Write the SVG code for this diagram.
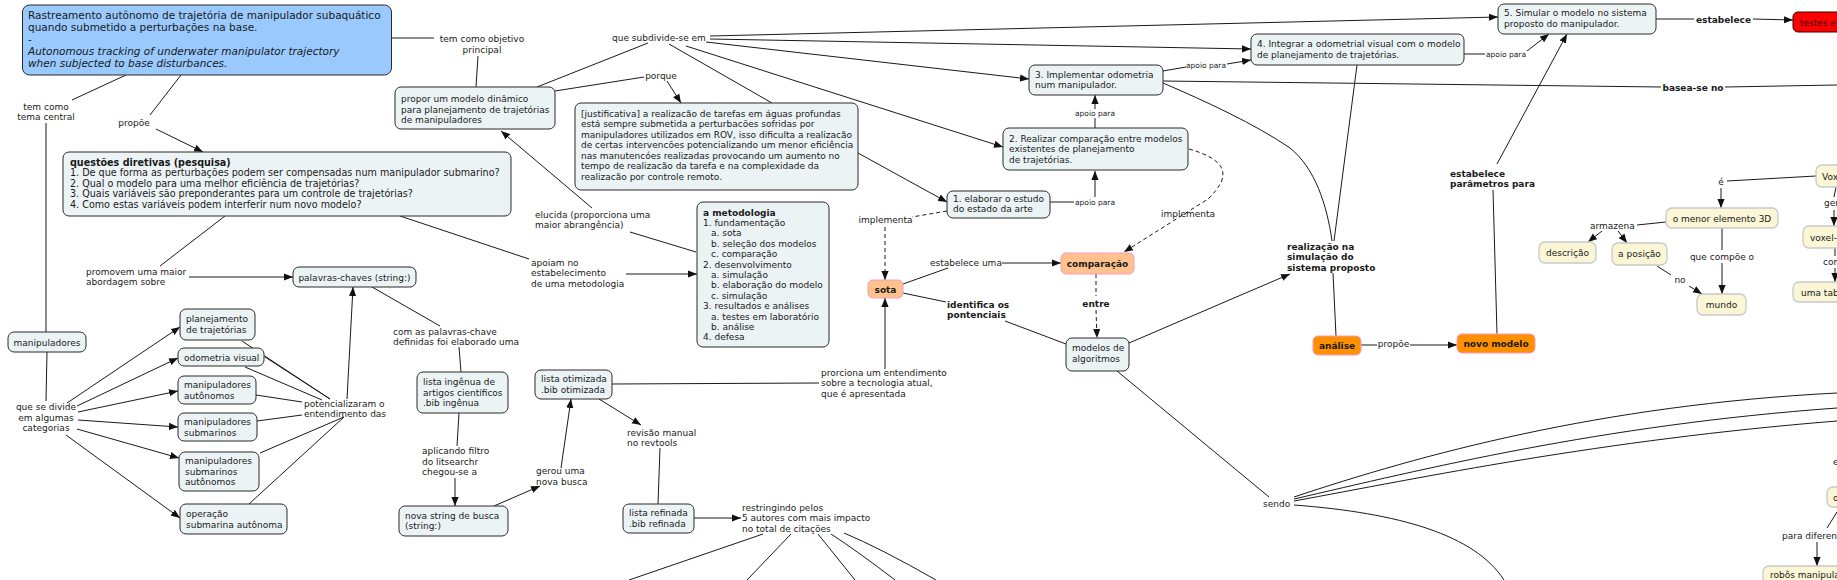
<svg xmlns="http://www.w3.org/2000/svg" width="1837" height="580" viewBox="0 0 1837 580">
<defs>
<marker id="ah" viewBox="0 0 10 8" refX="10" refY="4" markerWidth="9" markerHeight="8" markerUnits="userSpaceOnUse" orient="auto"><path d="M0,0L10,4L0,8z" fill="#111"/></marker>
<style>
.n{fill:#ecf3f5;stroke:#2b2b2b;stroke-width:1}
.ti{fill:#99c9fd;stroke:#2b2b2b;stroke-width:1}
.pe{fill:#ffc18e;stroke:#f49ac0;stroke-width:1}
.or{fill:#ff9000;stroke:#f49ac0;stroke-width:1}
.rd{fill:#ff0000;stroke:#3a0000;stroke-width:1}
.cr{fill:#faf6d6;stroke:#c9c9c9;stroke-width:1.3}
.t{font-family:"DejaVu Sans",Verdana,sans-serif;font-size:9px;fill:#1a1a1a}
.b{font-weight:bold}
.sm{font-size:7.5px}
.m{text-anchor:middle}
.big{font-size:10.5px}
.q{font-size:9.6px}
.i{font-style:italic}
.c{fill:none;stroke:#1a1a1a;stroke-width:1}
.d{stroke-dasharray:4 3}
.a{marker-end:url(#ah)}
</style>
</defs>
<rect width="1837" height="580" fill="#ffffff"/>

<g id="connectors">
<path class="c" d="M391,38H434"/>
<text class="t m" x="482" y="42">tem como objetivo</text>
<text class="t m" x="482" y="52.5">principal</text>
<path class="c" d="M478,56L476,87"/>
<path class="c" d="M126,75L72,100"/>
<text class="t m" x="46" y="109.5">tem como</text>
<text class="t m" x="46" y="120">tema central</text>
<path class="c" d="M46,123V332"/>
<path class="c" d="M181,75L150,115"/>
<text class="t m" x="134" y="125.5">propõe</text>
<path class="c a" d="M156,129L203,152"/>
<path class="c" d="M225,216L160,266"/>
<text class="t" x="86" y="274.5">promovem uma maior</text>
<text class="t" x="86" y="284.5">abordagem sobre</text>
<path class="c a" d="M189,277L293,277"/>
<path class="c" d="M400,216L529,259"/>
<text class="t" x="531" y="265.5">apoiam no</text>
<text class="t" x="531" y="276">estabelecimento</text>
<text class="t" x="531" y="286.5">de uma metodologia</text>
<path class="c a" d="M626,274L697,274"/>
<path class="c" d="M696,252L630,232"/>
<text class="t" x="535" y="217.5">elucida (proporciona uma</text>
<text class="t" x="535" y="228">maior abrangência)</text>
<path class="c a" d="M592,208L501,131"/>
<text class="t" x="612" y="40.5">que subdivide-se em</text>
<path class="c" d="M648,43L537,87"/>
<path class="c" d="M669,44L772,103"/>
<path class="c a" d="M706,42L1029,79"/>
<path class="c a" d="M686,46L1003,147"/>
<path class="c a" d="M710,36L1498,17"/>
<path class="c a" d="M710,39L1251,49"/>
<path class="c" d="M555,91L644,77"/>
<text class="t m" x="661" y="78.5">porque</text>
<path class="c a" d="M667,81L681,103"/>
<path class="c a" d="M858,153L947,202"/>
<path class="c" d="M1050,202H1074"/>
<text class="t sm m" x="1095" y="204.5">apoio para</text>
<path class="c a" d="M1095,197V171"/>
<path class="c" d="M1095,128V118"/>
<text class="t sm m" x="1095" y="115.5">apoio para</text>
<path class="c a" d="M1095,109V95"/>
<path class="c" d="M1163,71L1186,67"/>
<text class="t sm m" x="1206" y="67.5">apoio para</text>
<path class="c a" d="M1227,64L1251,60"/>
<path class="c" d="M1464,54H1485"/>
<text class="t sm m" x="1506" y="56.5">apoio para</text>
<path class="c a" d="M1527,51L1549,34"/>
<path class="c" d="M1656,19H1694"/>
<text class="t b m" x="1723.5" y="22.5">estabelece</text>
<path class="c a" d="M1753,19L1793,20"/>
<path class="c" d="M1163,81L1661,87"/>
<text class="t b m" x="1693" y="91">basea-se no</text>
<path class="c" d="M1725,87L1837,85"/>
<path class="c" d="M1163,83C1205,101 1255,124 1290,148C1315,168 1327,205 1332,241"/>
<path class="c" d="M1357,65L1334,241"/>
<text class="t b" x="1287" y="249.5">realização na</text>
<text class="t b" x="1287" y="260">simulação do</text>
<text class="t b" x="1287" y="270.5">sistema proposto</text>
<path class="c" d="M1333,273L1336,336"/>
<path class="c" d="M1361,345H1377"/>
<text class="t m" x="1393.5" y="346.5">propõe</text>
<path class="c a" d="M1410,345H1457"/>
<path class="c" d="M1497,334L1493,190"/>
<text class="t b" x="1450" y="176.5">estabelece</text>
<text class="t b" x="1450" y="187">parâmetros para</text>
<path class="c a" d="M1497,164L1567,34"/>
<path class="c d" d="M947,211L912,217"/>
<text class="t m" x="885.5" y="222.5">implementa</text>
<path class="c d a" d="M885,227V280"/>
<path class="c d a" d="M1189,149C1228,160 1232,176 1208,199L1124,252"/>
<text class="t m" x="1188" y="217">implementa</text>
<path class="c" d="M903,284L948,268"/>
<text class="t" x="930" y="266">estabelece uma</text>
<path class="c a" d="M1002,263H1061"/>
<path class="c" d="M903,293L946,302"/>
<text class="t b" x="947" y="307.5">identifica os</text>
<text class="t b" x="947" y="318">pontenciais</text>
<path class="c" d="M1005,321L1066,344"/>
<path class="c d" d="M1096,274V296"/>
<text class="t b m" x="1096" y="306.5">entre</text>
<path class="c d a" d="M1096,310L1097,338"/>
<path class="c a" d="M1129,343L1290,274"/>
<path class="c" d="M1117,371L1269,497"/>
<text class="t" x="1263" y="506.5">sendo</text>
<path class="c" d="M1294,497C1420,455 1600,405 1837,393"/>
<path class="c" d="M1294,499C1420,470 1600,425 1837,408"/>
<path class="c" d="M1294,501C1420,478 1600,440 1837,421"/>
<path class="c" d="M1294,505C1400,513 1475,535 1504,580"/>
<path class="c" d="M612,384L819,383"/>
<text class="t" x="821" y="375.5">prorciona um entendimento</text>
<text class="t" x="821" y="386">sobre a tecnologia atual,</text>
<text class="t" x="821" y="396.5">que é apresentada</text>
<path class="c a" d="M885,369V298"/>
<path class="c a" d="M599,399L641,425"/>
<text class="t" x="627" y="435.5">revisão manual</text>
<text class="t" x="627" y="446">no revtools</text>
<path class="c" d="M660,448L658,504"/>
<path class="c a" d="M694,518H741"/>
<text class="t" x="742" y="510.5">restringindo pelos</text>
<text class="t" x="742" y="521">5 autores com mais impacto</text>
<text class="t" x="742" y="531.5">no total de citações</text>
<path class="c" d="M763,534L629,580"/>
<path class="c" d="M791,534L747,580"/>
<path class="c" d="M818,534L855,580"/>
<path class="c" d="M831,534Q860,553 895,580"/>
<path class="c" d="M844,533Q880,548 936,580"/>
<path class="c" d="M47,352L46,401"/>
<text class="t m" x="46" y="410.3">que se divide</text>
<text class="t m" x="46" y="420.8">em algumas</text>
<text class="t m" x="46" y="431.3">categorias</text>
<path class="c a" d="M67,403L180,327"/>
<path class="c a" d="M77,406L178,358"/>
<path class="c a" d="M78,412L178,391"/>
<path class="c a" d="M78,420L178,427"/>
<path class="c a" d="M77,429L179,458"/>
<path class="c a" d="M66,435L180,518"/>
<path class="c" d="M242,341L330,399"/>
<path class="c" d="M265,357L330,399"/>
<path class="c" d="M245,367L322,400"/>
<path class="c" d="M256,395L302,402"/>
<path class="c" d="M257,421L302,415"/>
<path class="c" d="M260,453L344,417"/>
<path class="c" d="M249,504L344,417"/>
<text class="t" x="304" y="406.5">potencializaram o</text>
<text class="t" x="304" y="417">entendimento das</text>
<path class="c a" d="M347,399L353,287"/>
<path class="c" d="M372,287L440,326"/>
<text class="t" x="393" y="334.5">com as palavras-chave</text>
<text class="t" x="393" y="345">definidas foi elaborado uma</text>
<path class="c" d="M459,347L461,372"/>
<path class="c" d="M459,413L457,446"/>
<text class="t" x="422" y="454.3">aplicando filtro</text>
<text class="t" x="422" y="464.8">do litsearchr</text>
<text class="t" x="422" y="475.3">chegou-se a</text>
<path class="c a" d="M455,478L455,506"/>
<path class="c a" d="M494,506L540,486"/>
<text class="t" x="536" y="474.3">gerou uma</text>
<text class="t" x="536" y="484.8">nova busca</text>
<path class="c a" d="M561,468L571,399"/>
<path class="c" d="M1816,176L1727,181"/>
<text class="t m" x="1721" y="184.5">é</text>
<path class="c a" d="M1721,188V208"/>
<path class="c" d="M1666,222L1637,225"/>
<text class="t" x="1590" y="228.5">armazena</text>
<path class="c a" d="M1602,231L1588,242"/>
<path class="c a" d="M1618,231L1627,243"/>
<path class="c" d="M1657,266L1671,275"/>
<text class="t m" x="1680" y="283.3">no</text>
<path class="c a" d="M1689,286L1702,294"/>
<path class="c" d="M1722,228V250"/>
<text class="t m" x="1722" y="259.5">que compõe o</text>
<path class="c a" d="M1722,263V294"/>
<path class="c" d="M1836,187L1834,197"/>
<text class="t" x="1824" y="206">gera</text>
<path class="c a" d="M1834,210V226"/>
<path class="c" d="M1835,248V256"/>
<text class="t" x="1823" y="265">com</text>
<path class="c a" d="M1835,268V282"/>
<text class="t" x="1833" y="465">e</text>
<path class="c" d="M1837,512L1827,528"/>
<text class="t" x="1782" y="539">para diferentes</text>
<path class="c a" d="M1817,542V566"/>
</g>

<g id="n-title"><rect class="ti" x="22.5" y="5" width="369" height="70" rx="7"/>
<text class="t big" x="28" y="19">Rastreamento autônomo de trajetória de manipulador subaquático</text>
<text class="t big" x="28" y="31">quando submetido a perturbações na base.</text>
<text class="t big" x="28" y="43">-</text>
<text class="t big i" x="28" y="55">Autonomous tracking of underwater manipulator trajectory</text>
<text class="t big i" x="28" y="67">when subjected to base disturbances.</text></g>

<g id="n-questoes"><rect class="n" x="63" y="152" width="448" height="64" rx="6"/>
<text class="t q b" x="70" y="165.5">questões diretivas (pesquisa)</text>
<text class="t q" x="70" y="176">1. De que forma as perturbações podem ser compensadas num manipulador submarino?</text>
<text class="t q" x="70" y="186.5">2. Qual o modelo para uma melhor eficiência de trajetórias?</text>
<text class="t q" x="70" y="197">3. Quais variáveis são preponderantes para um controle de trajetórias?</text>
<text class="t q" x="70" y="207.5">4. Como estas variáveis podem interferir num novo modelo?</text></g>

<g id="n-propor"><rect class="n" x="395" y="87" width="160" height="42" rx="6"/>
<text class="t" x="401" y="102">propor um modelo dinâmico</text>
<text class="t" x="401" y="112.5">para planejamento de trajetórias</text>
<text class="t" x="401" y="123">de manipuladores</text></g>

<g id="n-justificativa"><rect class="n" x="575" y="103" width="283" height="87" rx="6"/>
<text class="t" x="581" y="116.5">[justificativa] a realizacão de tarefas em águas profundas</text>
<text class="t" x="581" y="127">está sempre submetida a perturbacões sofridas por</text>
<text class="t" x="581" y="137.5">manipuladores utilizados em ROV, isso dificulta a realizacão</text>
<text class="t" x="581" y="148">de certas intervencões potencializando um menor eficiência</text>
<text class="t" x="581" y="158.5">nas manutencóes realizadas provocando um aumento no</text>
<text class="t" x="581" y="169">tempo de realizacão da tarefa e na complexidade da</text>
<text class="t" x="581" y="179.5">realizacão por controle remoto.</text></g>

<g id="n-metodologia"><rect class="n" x="697" y="202" width="132" height="145" rx="6"/>
<text class="t b" x="703" y="215.5">a metodologia</text>
<text class="t" x="703" y="225.9">1. fundamentação</text>
<text class="t" x="711" y="236.3">a. sota</text>
<text class="t" x="711" y="246.7">b. seleção dos modelos</text>
<text class="t" x="711" y="257.1">c. comparação</text>
<text class="t" x="703" y="267.5">2. desenvolvimento</text>
<text class="t" x="711" y="277.9">a. simulação</text>
<text class="t" x="711" y="288.3">b. elaboração do modelo</text>
<text class="t" x="711" y="298.7">c. simulação</text>
<text class="t" x="703" y="309.1">3. resultados e análises</text>
<text class="t" x="711" y="319.5">a. testes em laboratório</text>
<text class="t" x="711" y="329.9">b. análise</text>
<text class="t" x="703" y="340.3">4. defesa</text></g>

<g id="n-obj1"><rect class="n" x="947" y="191" width="103" height="27" rx="6"/>
<text class="t" x="953" y="201.5">1. elaborar o estudo</text>
<text class="t" x="953" y="212">do estado da arte</text></g>

<g id="n-obj2"><rect class="n" x="1003" y="128" width="185" height="42" rx="6"/>
<text class="t" x="1009" y="141.5">2. Realizar comparação entre modelos</text>
<text class="t" x="1009" y="152">existentes de planejamento</text>
<text class="t" x="1009" y="162.5">de trajetórias.</text></g>

<g id="n-obj3"><rect class="n" x="1029" y="65" width="134" height="30" rx="6"/>
<text class="t" x="1035" y="77.5">3. Implementar odometria</text>
<text class="t" x="1035" y="88">num manipulador.</text></g>

<g id="n-obj4"><rect class="n" x="1251" y="34" width="213" height="31" rx="6"/>
<text class="t" x="1257" y="47">4. Integrar a odometrial visual com o modelo</text>
<text class="t" x="1257" y="57.5">de planejamento de trajetórias.</text></g>

<g id="n-obj5"><rect class="n" x="1498" y="4" width="158" height="30" rx="6"/>
<text class="t" x="1504" y="16">5. Simular o modelo no sistema</text>
<text class="t" x="1504" y="26.5">proposto do manipulador.</text></g>

<g id="n-testes"><rect class="rd" x="1793" y="12" width="90" height="20" rx="5"/>
<text class="t" x="1800" y="25.5" style="fill:#3a0000">testes em</text></g>

<g id="n-sota"><rect class="pe" x="868" y="280" width="35" height="18" rx="5"/>
<text class="t b m" x="885.5" y="292.5">sota</text></g>

<g id="n-comparacao"><rect class="pe" x="1061" y="253" width="73" height="21" rx="5"/>
<text class="t b m" x="1097.5" y="266.5">comparação</text></g>

<g id="n-modelos"><rect class="n" x="1066" y="338" width="63" height="33" rx="6"/>
<text class="t" x="1072" y="351">modelos de</text>
<text class="t" x="1072" y="361.5">algoritmos</text></g>

<g id="n-analise"><rect class="or" x="1313" y="336" width="48" height="19" rx="5"/>
<text class="t b m" x="1337" y="349">análise</text></g>

<g id="n-novomodelo"><rect class="or" x="1457" y="334" width="78" height="19" rx="5"/>
<text class="t b m" x="1496" y="347">novo modelo</text></g>

<g id="n-palavras"><rect class="n" x="293" y="267" width="123" height="20" rx="6"/>
<text class="t m" x="354.5" y="280.5">palavras-chaves (string:)</text></g>

<g id="n-manipuladores"><rect class="n" x="8" y="332" width="78" height="20" rx="6"/>
<text class="t m" x="47" y="345.5">manipuladores</text></g>

<g id="n-planejamento"><rect class="n" x="180" y="309" width="75" height="31" rx="6"/>
<text class="t" x="186" y="322">planejamento</text>
<text class="t" x="186" y="332.5">de trajetórias</text></g>

<g id="n-odometria"><rect class="n" x="178" y="348" width="86" height="18" rx="6"/>
<text class="t" x="184" y="360.5">odometria visual</text></g>

<g id="n-manaut"><rect class="n" x="178" y="376" width="78" height="28" rx="6"/>
<text class="t" x="184" y="388">manipuladores</text>
<text class="t" x="184" y="398.5">autônomos</text></g>

<g id="n-mansub"><rect class="n" x="178" y="413" width="79" height="28" rx="6"/>
<text class="t" x="184" y="425">manipuladores</text>
<text class="t" x="184" y="435.5">submarinos</text></g>

<g id="n-mansubaut"><rect class="n" x="179" y="452" width="80" height="39" rx="6"/>
<text class="t" x="185" y="464">manipuladores</text>
<text class="t" x="185" y="474.5">submarinos</text>
<text class="t" x="185" y="485">autônomos</text></g>

<g id="n-operacao"><rect class="n" x="180" y="504" width="107" height="30" rx="6"/>
<text class="t" x="186" y="517">operação</text>
<text class="t" x="186" y="527.5">submarina autônoma</text></g>

<g id="n-listaingenua"><rect class="n" x="417" y="372" width="91" height="41" rx="6"/>
<text class="t" x="423" y="385">lista ingênua de</text>
<text class="t" x="423" y="395.5">artigos científicos</text>
<text class="t" x="423" y="406">.bib ingênua</text></g>

<g id="n-novastring"><rect class="n" x="399" y="506" width="109" height="30" rx="6"/>
<text class="t" x="405" y="518.5">nova string de busca</text>
<text class="t" x="405" y="529">(string:)</text></g>

<g id="n-listaotimizada"><rect class="n" x="535" y="370" width="77" height="29" rx="6"/>
<text class="t" x="541" y="382">lista otimizada</text>
<text class="t" x="541" y="392.5">.bib otimizada</text></g>

<g id="n-listarefinada"><rect class="n" x="623" y="504" width="71" height="29" rx="6"/>
<text class="t" x="629" y="516">lista refinada</text>
<text class="t" x="629" y="526.5">.bib refinada</text></g>

<g id="n-menor"><rect class="cr" x="1666" y="208" width="112" height="20" rx="6"/>
<text class="t m" x="1722" y="221.5">o menor elemento 3D</text></g>
<g id="n-descricao"><rect class="cr" x="1539" y="242" width="57" height="21" rx="6"/>
<text class="t m" x="1567.5" y="255.5">descrição</text></g>
<g id="n-posicao"><rect class="cr" x="1612" y="243" width="55" height="22" rx="6"/>
<text class="t m" x="1639.5" y="257">a posição</text></g>
<g id="n-mundo"><rect class="cr" x="1697" y="294" width="49" height="21" rx="6"/>
<text class="t m" x="1721.5" y="307.5">mundo</text></g>
<g id="n-voxel"><rect class="cr" x="1816" y="165" width="60" height="22" rx="6"/>
<text class="t" x="1822" y="179.5">Voxel</text></g>
<g id="n-voxelmap"><rect class="cr" x="1803" y="226" width="80" height="22" rx="6"/>
<text class="t" x="1810" y="240.5">voxel-</text></g>
<g id="n-tabela"><rect class="cr" x="1793" y="282" width="80" height="20" rx="6"/>
<text class="t" x="1801" y="295.5">uma tabela</text></g>
<g id="n-o"><rect class="cr" x="1827" y="487" width="40" height="20" rx="6"/>
<text class="t" x="1833" y="500.5">o</text></g>
<g id="n-robos"><rect class="cr" x="1763" y="566" width="130" height="30" rx="6"/>
<text class="t" x="1770" y="578">robôs manipuladores</text></g>
</svg>
